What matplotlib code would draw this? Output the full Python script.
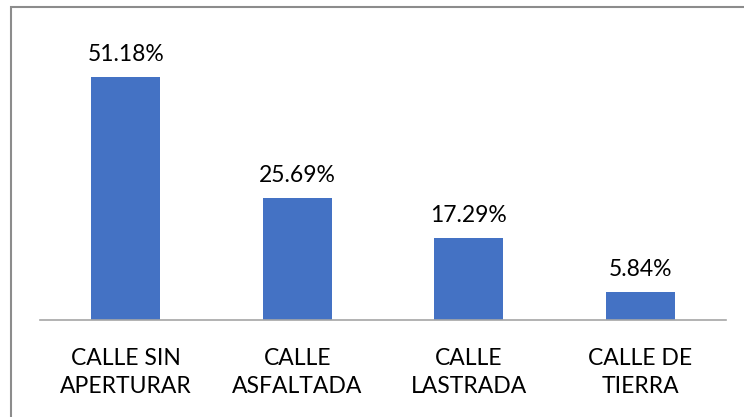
import matplotlib.pyplot as plt
from matplotlib.patches import Rectangle

categories = ["CALLE SIN\nAPERTURAR", "CALLE\nASFALTADA", "CALLE\nLASTRADA", "CALLE DE\nTIERRA"]
values = [51.18, 25.69, 17.29, 5.84]
labels = ["51.18%", "25.69%", "17.29%", "5.84%"]

plt.rcParams['font.family'] = ['Lato', 'DejaVu Sans']

fig = plt.figure(figsize=(7.44, 4.17), dpi=100)
ax = fig.add_axes([40 / 744, 97 / 417, 686 / 744, 300 / 417])

x = range(len(categories))
bars = ax.bar(x, values, width=0.4, color="#4472C4")

for bar, lab in zip(bars, labels):
    ax.text(bar.get_x() + bar.get_width() / 2, bar.get_height() + 2.6, lab,
            ha="center", va="bottom", fontsize=16.5, color="#000000")

ax.set_xlim(-0.5, len(categories) - 0.5)
ax.set_ylim(0, 300 / 4.748)
ax.set_xticks(list(x))
ax.set_xticklabels(categories, fontsize=16.5, linespacing=1.42)
ax.tick_params(axis="x", length=0, pad=20)
ax.set_yticks([])

for side in ["top", "right", "left"]:
    ax.spines[side].set_visible(False)
ax.spines["bottom"].set_color("#A6A6A6")
ax.spines["bottom"].set_linewidth(1.2)

# chart border (cropped at right and bottom in the original)
fig.patches.append(Rectangle((10.5 / 744, -0.05), 1.0, (417 - 6.5) / 417 + 0.05,
                             transform=fig.transFigure, fill=False,
                             edgecolor="#8C8C8C", linewidth=1.5))

fig.savefig("out.png", dpi=100)
